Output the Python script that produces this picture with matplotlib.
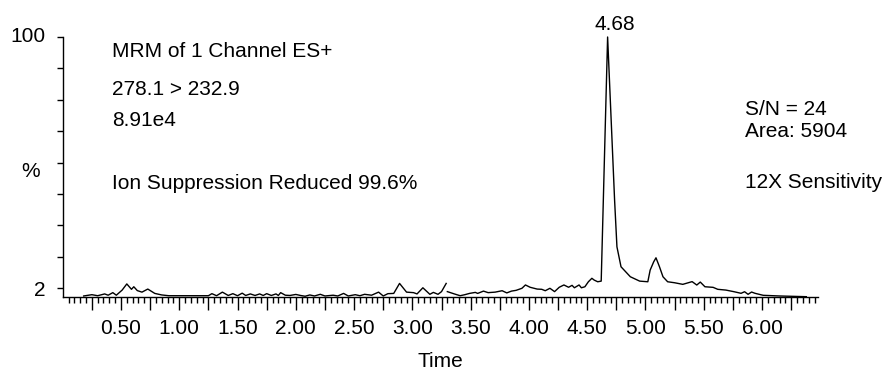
import numpy as np
import matplotlib
matplotlib.use("Agg")
import matplotlib.pyplot as plt
from matplotlib.ticker import FixedLocator, FixedFormatter

# ---- data (time in min, relative intensity in %) ----
time_a = [0.18, 0.25, 0.30, 0.36, 0.39, 0.43, 0.46, 0.51, 0.55, 0.59, 0.61, 0.64,
          0.68, 0.73, 0.79, 0.85, 0.91, 1.00, 1.10, 1.20, 1.25, 1.28, 1.32, 1.37,
          1.42, 1.46, 1.50, 1.54, 1.57, 1.61, 1.65, 1.69, 1.72, 1.75, 1.79, 1.83,
          1.85, 1.87, 1.91, 1.95, 2.00, 2.04, 2.08, 2.12, 2.16, 2.21, 2.25, 2.32,
          2.36, 2.41, 2.45, 2.51, 2.55, 2.59, 2.65, 2.71, 2.75, 2.79, 2.84, 2.89,
          2.95, 3.01, 3.04, 3.09, 3.15, 3.18, 3.22, 3.25, 3.29]
inten_a = [-1.1, -0.6, -1.0, -0.3, -0.8, 0.2, -0.8, 1.2, 3.6, 1.5, 2.5, 1.0,
           0.4, 1.6, -0.1, -0.7, -1.0, -1.0, -1.0, -1.0, -1.0, -0.2, -1.0, 0.4,
           -0.9, -0.2, -1.0, 0.0, -0.9, -0.3, -0.9, -0.3, -0.9, -0.2, -0.9, -0.3,
           -0.9, 0.2, -0.8, -0.9, -0.5, -0.9, -1.2, -0.7, -1.1, -0.45, -1.1, -0.8,
           -1.1, -0.1, -1.1, -0.6, -1.0, -0.45, -0.8, 0.4, -1.1, -0.2, -0.1, 3.8,
           0.4, 0.2, -0.3, 2.1, -0.45, 0.3, -0.45, 0.6, 3.8]

time_b = [3.30, 3.32, 3.36, 3.41, 3.45, 3.49, 3.54, 3.56, 3.61, 3.65, 3.71, 3.77,
          3.81, 3.85, 3.89, 3.94, 3.97, 4.01, 4.07, 4.11, 4.14, 4.18, 4.22, 4.25,
          4.26, 4.30, 4.34, 4.37, 4.39, 4.43, 4.45, 4.48, 4.51, 4.54, 4.56, 4.59,
          4.62, 4.675, 4.735, 4.755, 4.79, 4.87, 4.95, 5.02, 5.04, 5.07, 5.09, 5.12,
          5.15, 5.19, 5.25, 5.32, 5.40, 5.44, 5.47, 5.51, 5.58, 5.62, 5.69, 5.76,
          5.82, 5.85, 5.88, 5.91, 5.94, 6.01, 6.15, 6.38]
inten_b = [0.6, 0.3, -0.3, -1.0, -0.6, -0.1, 0.3, -0.1, 0.8, 0.2, 0.4, 0.95,
           0.1, 0.8, 1.1, 1.9, 3.2, 2.3, 1.6, 1.5, 0.95, 1.9, 0.6, 1.9,
           2.3, 3.2, 2.3, 3.05, 2.1, 3.2, 2.1, 2.5, 4.45, 5.8, 5.1, 4.45,
           4.7, 100.0, 36.2, 18.1, 10.3, 6.4, 4.7, 4.45, 9.0, 12.2, 13.8, 10.3,
           6.4, 4.45, 4.06, 3.44, 4.5, 3.17, 4.33, 2.5, 2.27, 1.5, 1.2, 0.56,
           -0.06, 0.56, -0.45, 0.44, -0.06, -0.84, -1.1, -1.38]

peak_label = "4.68"
peak_time = 4.675
x_labels = ["0.50", "1.00", "1.50", "2.00", "2.50", "3.00", "3.50", "4.00",
            "4.50", "5.00", "5.50", "6.00"]
y_labels = ["2", "100"]
y_label_values = [2, 100]

plt.rcParams['font.family'] = ['Liberation Sans', 'DejaVu Sans']
FS = 15

fig = plt.figure(figsize=(8.9, 3.7), dpi=100)
W, H = 890.0, 370.0
ax = fig.add_axes([62.7 / W, 1 - 297 / H, (818 - 62.7) / W, (297 - 37) / H])

t = np.array(time_a + [np.nan] + time_b)
v = np.array(inten_a + [np.nan] + inten_b)
ax.plot(t, v, color="black", lw=1.0, clip_on=False)

ax.set_xlim(0, 6.48)
ax.set_ylim(-1.5, 100)
for s in ("top", "right"):
    ax.spines[s].set_visible(False)
for s in ("left", "bottom"):
    ax.spines[s].set_linewidth(1.0)

# x ticks
major_x = np.arange(0.25, 6.46, 0.25)
ax.xaxis.set_major_locator(FixedLocator(major_x))
ax.xaxis.set_major_formatter(FixedFormatter(
    [f"{m:.2f}" if f"{m:.2f}" in x_labels else "" for m in major_x]))
minor_x = [m for m in np.arange(0.05, 6.46, 0.05)
           if min(abs(m - major_x)) > 1e-6]
ax.xaxis.set_minor_locator(FixedLocator(minor_x))
ax.tick_params(axis="x", which="major", direction="out", length=9.5, width=1.0,
               labelsize=FS, pad=6.5)
ax.tick_params(axis="x", which="minor", direction="out", length=4.3, width=1.0)

# y ticks
ax.yaxis.set_major_locator(FixedLocator(y_label_values))
ax.yaxis.set_major_formatter(FixedFormatter(y_labels))
ax.yaxis.set_minor_locator(FixedLocator(np.arange(2, 100, 12.25)[1:]))
ax.tick_params(axis="y", which="both", direction="out", length=4.5, width=1.0,
               labelsize=FS, pad=8)
for lab in ax.get_yticklabels():
    if lab.get_text() == "100":
        lab.set_verticalalignment("center")

def ftext(px, py, s, ha="left", va="baseline"):
    fig.text(px / W, 1 - py / H, s, ha=ha, va=va, fontsize=FS)

ftext(112, 57, "MRM of 1 Channel ES+")
ftext(112, 95, "278.1 > 232.9")
ftext(112, 126, "8.91e4")
ftext(112, 189, "Ion Suppression Reduced 99.6%")
ftext(745, 115, "S/N = 24")
ftext(745, 137, "Area: 5904")
ftext(745, 188, "12X Sensitivity")
ftext(31, 177, "%", ha="center")
ftext(440, 367, "Time", ha="center")
ax.annotate(peak_label, xy=(peak_time, 100), xytext=(5, 5),
            textcoords="offset points", ha="center", va="baseline", fontsize=FS)

fig.savefig("out.png", dpi=100)
